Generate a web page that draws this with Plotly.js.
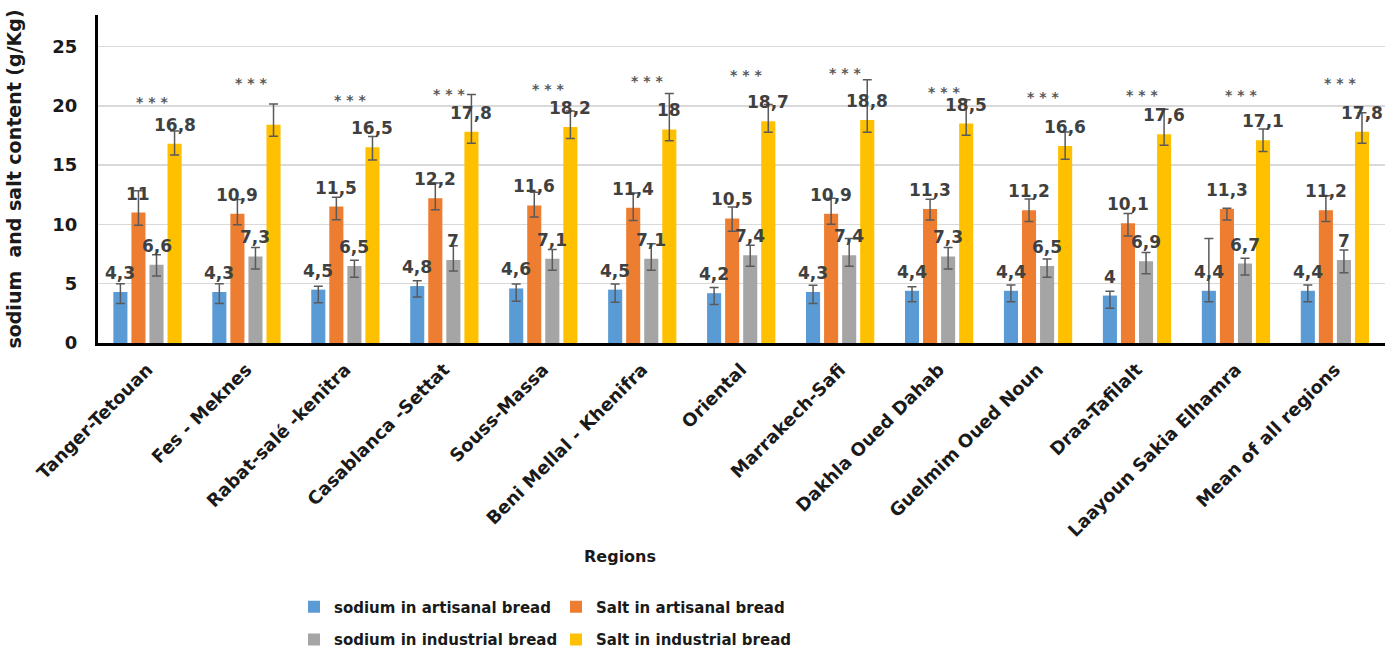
<!DOCTYPE html>
<html>
<head>
<meta charset="utf-8">
<script src="https://cdn.plot.ly/plotly-3.0.1.min.js"></script>
<style>body{margin:0;background:#fff}#chart{width:1385px;height:651px}</style>
</head>
<body>
<div id="chart"></div>
<script>
const regions = ['Tanger-Tetouan','Fes - Meknes','Rabat-salé -kenitra','Casablanca -Settat','Souss-Massa','Beni Mellal - Khenifra','Oriental','Marrakech-Safi','Dakhla Oued Dahab','Guelmim Oued Noun','Draa-Tafilalt','Laayoun Sakia Elhamra','Mean of all regions'];
const seriesNames = ['sodium in artisanal bread','Salt in artisanal bread','sodium in industrial bread','Salt in industrial bread'];

const sodiumArtisanal = [4.3,4.3,4.5,4.8,4.6,4.5,4.2,4.3,4.4,4.4,4.0,4.4,4.4];
const saltArtisanal   = [11,10.9,11.5,12.2,11.6,11.4,10.5,10.9,11.3,11.2,10.1,11.3,11.2];
const sodiumIndustrial= [6.6,7.3,6.5,7,7.1,7.1,7.4,7.4,7.3,6.5,6.9,6.7,7];
const saltIndustrial  = [16.8,18.4,16.5,17.8,18.2,18,18.7,18.8,18.5,16.6,17.6,17.1,17.8];

const errPlusSodiumArt  = [0.70,0.70,0.28,0.45,0.37,0.48,0.48,0.56,0.34,0.48,0.37,4.41,0.48];
const errMinusSodiumArt = [0.96,0.96,1.10,0.93,1.07,1.07,0.96,0.96,0.93,0.93,1.07,0.93,0.93];
const errPlusSaltArt    = [1.83,1.20,0.79,1.29,1.10,1.24,0.96,1.30,0.81,0.93,0.81,0.05,1.21];
const errMinusSaltArt   = [1.07,0.93,1.12,0.96,0.98,1.07,1.07,0.90,0.93,0.96,1.07,0.93,0.96];
const errPlusSodiumInd  = [0.84,0.76,0.48,1.20,0.79,1.26,0.84,1.40,0.76,0.59,0.73,0.45,0.84];
const errMinusSodiumInd = [0.96,1.07,0.96,0.93,0.96,0.96,0.93,0.93,1.07,0.96,1.07,0.96,1.07];
const errPlusSaltInd    = [1.07,1.74,0.90,3.15,1.35,3.03,1.40,3.40,2.00,1.18,2.10,0.93,1.60];
const errMinusSaltInd   = [0.96,0.98,1.07,0.96,0.96,0.96,0.93,1.04,0.98,1.10,0.93,0.96,0.96];

// significance marks above each region group
const significance = ['***','***','***','***','***','***','***','***','***','***','***','***','***'];
const significanceY = [20.3,21.9,20.45,20.95,21.4,22.1,22.6,22.75,21.2,20.7,20.9,20.9,21.9];
// data labels not shown in the original: [seriesIndex, regionIndex]
const hiddenLabels = [[3,1]];

const colors = ['#5b9bd5','#ed7d31','#a5a5a5','#ffc000'];
const values = [sodiumArtisanal, saltArtisanal, sodiumIndustrial, saltIndustrial];
const plus = [errPlusSodiumArt, errPlusSaltArt, errPlusSodiumInd, errPlusSaltInd];
const minus = [errMinusSodiumArt, errMinusSaltArt, errMinusSodiumInd, errMinusSaltInd];

const FONT = "Tahoma, 'DejaVu Sans', sans-serif";
const bargap = 0.27, bargroupgap = 0.22;

const traces = values.map((v, k) => ({
  type: 'bar', name: seriesNames[k], x: regions, y: v,
  marker: {color: colors[k]},
  error_y: {type: 'data', symmetric: false, array: plus[k], arrayminus: minus[k],
            color: '#5a5a5a', thickness: 1.5, width: 4.5},
  legend: k < 2 ? 'legend' : 'legend2',
  hoverinfo: 'x+y'
}));

const annotations = [];
const slot = (1 - bargap) / 4;
values.forEach((v, k) => {
  v.forEach((val, i) => {
    if (hiddenLabels.some(h => h[0] === k && h[1] === i)) return;
    annotations.push({
      x: i + (k - 1.5) * slot, y: val, xref: 'x', yref: 'y',
      text: String(val).replace('.', ','), showarrow: false,
      yanchor: 'bottom', yshift: 7,
      font: {family: FONT, size: 17, color: '#404040', weight: 'bold'}
    });
  });
});
significance.forEach((s, i) => {
  annotations.push({
    x: i, y: significanceY[i], xref: 'x', yref: 'y', xshift: 5,
    text: s.split('').join(' '), showarrow: false, yanchor: 'middle',
    font: {family: FONT, size: 14, color: '#595959', weight: 'bold'}
  });
});
annotations.push({
  x: 0.4056, y: -0.652, xref: 'paper', yref: 'paper', showarrow: false,
  text: 'Regions', xanchor: 'center', yanchor: 'middle',
  font: {family: FONT, size: 16, color: '#1a1a1a', weight: 'bold'}
});

const legendFont = {family: FONT, size: 15, color: '#1a1a1a', weight: 'bold'};
const layout = {
  width: 1385, height: 651,
  margin: {l: 98, r: 0, t: 15, b: 308, autoexpand: false},
  paper_bgcolor: '#ffffff', plot_bgcolor: '#ffffff',
  barmode: 'group', bargap: bargap, bargroupgap: bargroupgap,
  font: {family: FONT, color: '#262626'},
  xaxis: {
    type: 'category', tickangle: -45, showline: true, linecolor: '#000', linewidth: 3,
    ticks: '', showgrid: false, zeroline: false, ticklabelstandoff: 6, automargin: false,
    tickfont: {family: FONT, size: 18, color: '#1a1a1a', weight: 'bold'}
  },
  yaxis: {
    range: [0, 27.65], dtick: 5, showline: true, linecolor: '#000', linewidth: 3,
    gridcolor: '#d9d9d9', gridwidth: 1.5, zeroline: false, ticks: '', automargin: false,
    ticklabelstandoff: 14,
    tickfont: {family: FONT, size: 18, color: '#1a1a1a', weight: 'bold'},
    title: {text: 'sodium\u00a0 and salt content (g/Kg)', standoff: 26,
            font: {family: FONT, size: 19, color: '#1a1a1a', weight: 'bold'}}
  },
  showlegend: true,
  legend: {orientation: 'h', x: 0.1523, xanchor: 'left', y: -0.805, yanchor: 'middle',
           entrywidth: 217, font: legendFont, traceorder: 'normal', itemclick: false},
  legend2: {orientation: 'h', x: 0.1523, xanchor: 'left', y: -0.905, yanchor: 'middle',
           entrywidth: 217, font: legendFont, traceorder: 'normal', itemclick: false},
  annotations: annotations
};

Plotly.newPlot('chart', traces, layout, {displayModeBar: false, staticPlot: true});
</script>
</body>
</html>
